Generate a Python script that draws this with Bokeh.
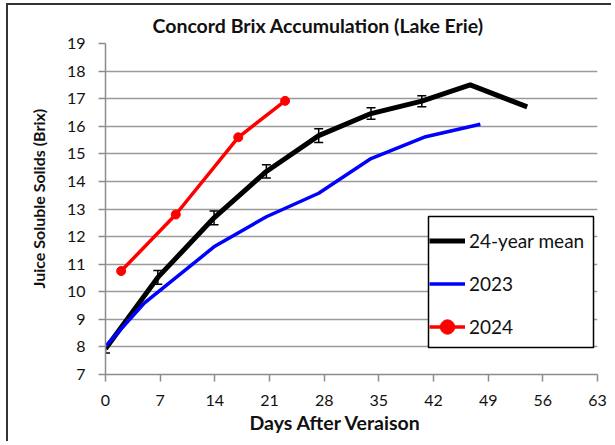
from bokeh.plotting import figure
from bokeh.models import (ColumnDataSource, Whisker, TeeHead, Legend, LegendItem,
                          Title, FixedTicker, Range1d, BoxAnnotation)
from bokeh.embed import file_html
from bokeh.resources import INLINE

# ---- data ----
mean_days = [0, 6.7, 13.9, 20.6, 27.3, 34, 40.5, 46.7, 54]
mean_brix = [7.93, 10.52, 12.68, 14.36, 15.66, 16.46, 16.91, 17.5, 16.7]
mean_err = [0.15, 0.25, 0.25, 0.24, 0.25, 0.21, 0.2, 0.0, 0.0]

y2023_days = [0, 5, 14, 20.6, 27.3, 34, 41, 48]
y2023_brix = [8.02, 9.6, 11.65, 12.72, 13.57, 14.83, 15.62, 16.07]

y2024_days = [2, 9, 17, 23]
y2024_brix = [10.75, 12.8, 15.6, 16.92]

x_ticks = [0, 7, 14, 21, 28, 35, 42, 49, 56, 63]
y_ticks = list(range(7, 20))

title_text = "Concord Brix Accumulation (Lake Erie)"
x_label = "Days After Veraison"
y_label = "Juice Soluble Solids (Brix)"
series_names = ["24-year mean", "2023", "2024"]

FONT = "Lato"

p = figure(width=605, height=438, output_backend="svg", toolbar_location=None,
           x_range=Range1d(0, 63), y_range=Range1d(7, 19),
           min_border_left=97, min_border_right=16, min_border_top=37,
           min_border_bottom=69)
p.styles = {"margin-left": "6px", "margin-top": "3px",
            "border-left": "2px solid #333333", "border-top": "2px solid #333333"}
p.outline_line_color = None
p.background_fill_color = "white"
p.border_fill_color = "white"

# title
p.title.text = title_text
p.title.align = "left"
p.title.offset = 47
p.title.text_font = FONT
p.title.text_font_style = "bold"
p.title.text_font_size = "19.5px"
p.title.text_color = "#111111"
p.title.standoff = 13

# axes
for ax in (p.xaxis[0], p.yaxis[0]):
    ax.axis_line_color = "#8c8c8c"
    ax.axis_line_width = 1.5
    ax.major_tick_line_color = "#8c8c8c"
    ax.major_tick_line_width = 1.5
    ax.major_tick_out = 7
    ax.major_tick_in = 0
    ax.minor_tick_line_color = None
    ax.major_label_text_font = FONT
    ax.major_label_text_font_size = "16px"
    ax.major_label_text_color = "#111111"
p.xaxis[0].ticker = FixedTicker(ticks=x_ticks)
p.yaxis[0].ticker = FixedTicker(ticks=y_ticks)
p.xaxis[0].major_label_standoff = 13
p.yaxis[0].major_label_standoff = 13

p.add_layout(Title(text=x_label, align="left", offset=144, text_font=FONT,
                   text_font_style="bold", text_font_size="19.5px",
                   text_color="#111111", standoff=0), "below")
p.add_layout(Title(text=y_label, align="left", offset=86, text_font=FONT,
                   text_font_style="bold", text_font_size="16px",
                   text_color="#111111", standoff=32), "left")

p.xgrid.grid_line_color = None
p.ygrid.ticker = FixedTicker(ticks=y_ticks)
p.ygrid.grid_line_color = "#9a9a9a"
p.ygrid.grid_line_width = 1.3

# legend frame (white box with black border, under the legend entries)
legend_box = BoxAnnotation(left=323, right=488, bottom=27, top=158,
                           left_units="screen", right_units="screen",
                           bottom_units="screen", top_units="screen",
                           fill_color="white", fill_alpha=1.0,
                           line_color="black", line_width=1.5, line_alpha=1.0,
                           level="underlay")
p.add_layout(legend_box)

# series
r_mean = p.line(mean_days, mean_brix, line_color="black", line_width=5)
r_2023 = p.line(y2023_days, y2023_brix, line_color="#0000ff", line_width=3.5)
r_2024 = p.line(y2024_days, y2024_brix, line_color="#ff0000", line_width=3.5)
r_2024m = p.scatter(y2024_days, y2024_brix, size=9, marker="circle",
                    fill_color="#ff0000", line_color="#ff0000")

# error bars
eb_x = [d for d, e in zip(mean_days, mean_err) if e > 0]
eb_lo = [b - e for b, e in zip(mean_brix, mean_err) if e > 0]
eb_hi = [b + e for b, e in zip(mean_brix, mean_err) if e > 0]
src = ColumnDataSource(dict(x=eb_x, lo=eb_lo, hi=eb_hi))
wh = Whisker(base="x", lower="lo", upper="hi", source=src,
             line_color="black", line_width=1.5,
             upper_head=TeeHead(size=9, line_color="black", line_width=1.5),
             lower_head=TeeHead(size=9, line_color="black", line_width=1.5))
p.add_layout(wh)

# legend
legend = Legend(items=[
    LegendItem(label=series_names[0], renderers=[r_mean]),
    LegendItem(label=series_names[1], renderers=[r_2023]),
    LegendItem(label=series_names[2], renderers=[r_2024, r_2024m]),
], location=(324, 27))
legend.border_line_color = None
legend.background_fill_alpha = 0.0
legend.padding = 3
legend.margin = 0
legend.spacing = 2
legend.label_height = 41
legend.glyph_height = 41
legend.glyph_width = 36
legend.label_standoff = 4
legend.label_width = 0
legend.label_text_font = FONT
legend.label_text_font_size = "19px"
legend.label_text_color = "#111111"
legend.label_text_baseline = "middle"
p.add_layout(legend, "center")

open("out.html", "w").write(file_html(p, INLINE))
